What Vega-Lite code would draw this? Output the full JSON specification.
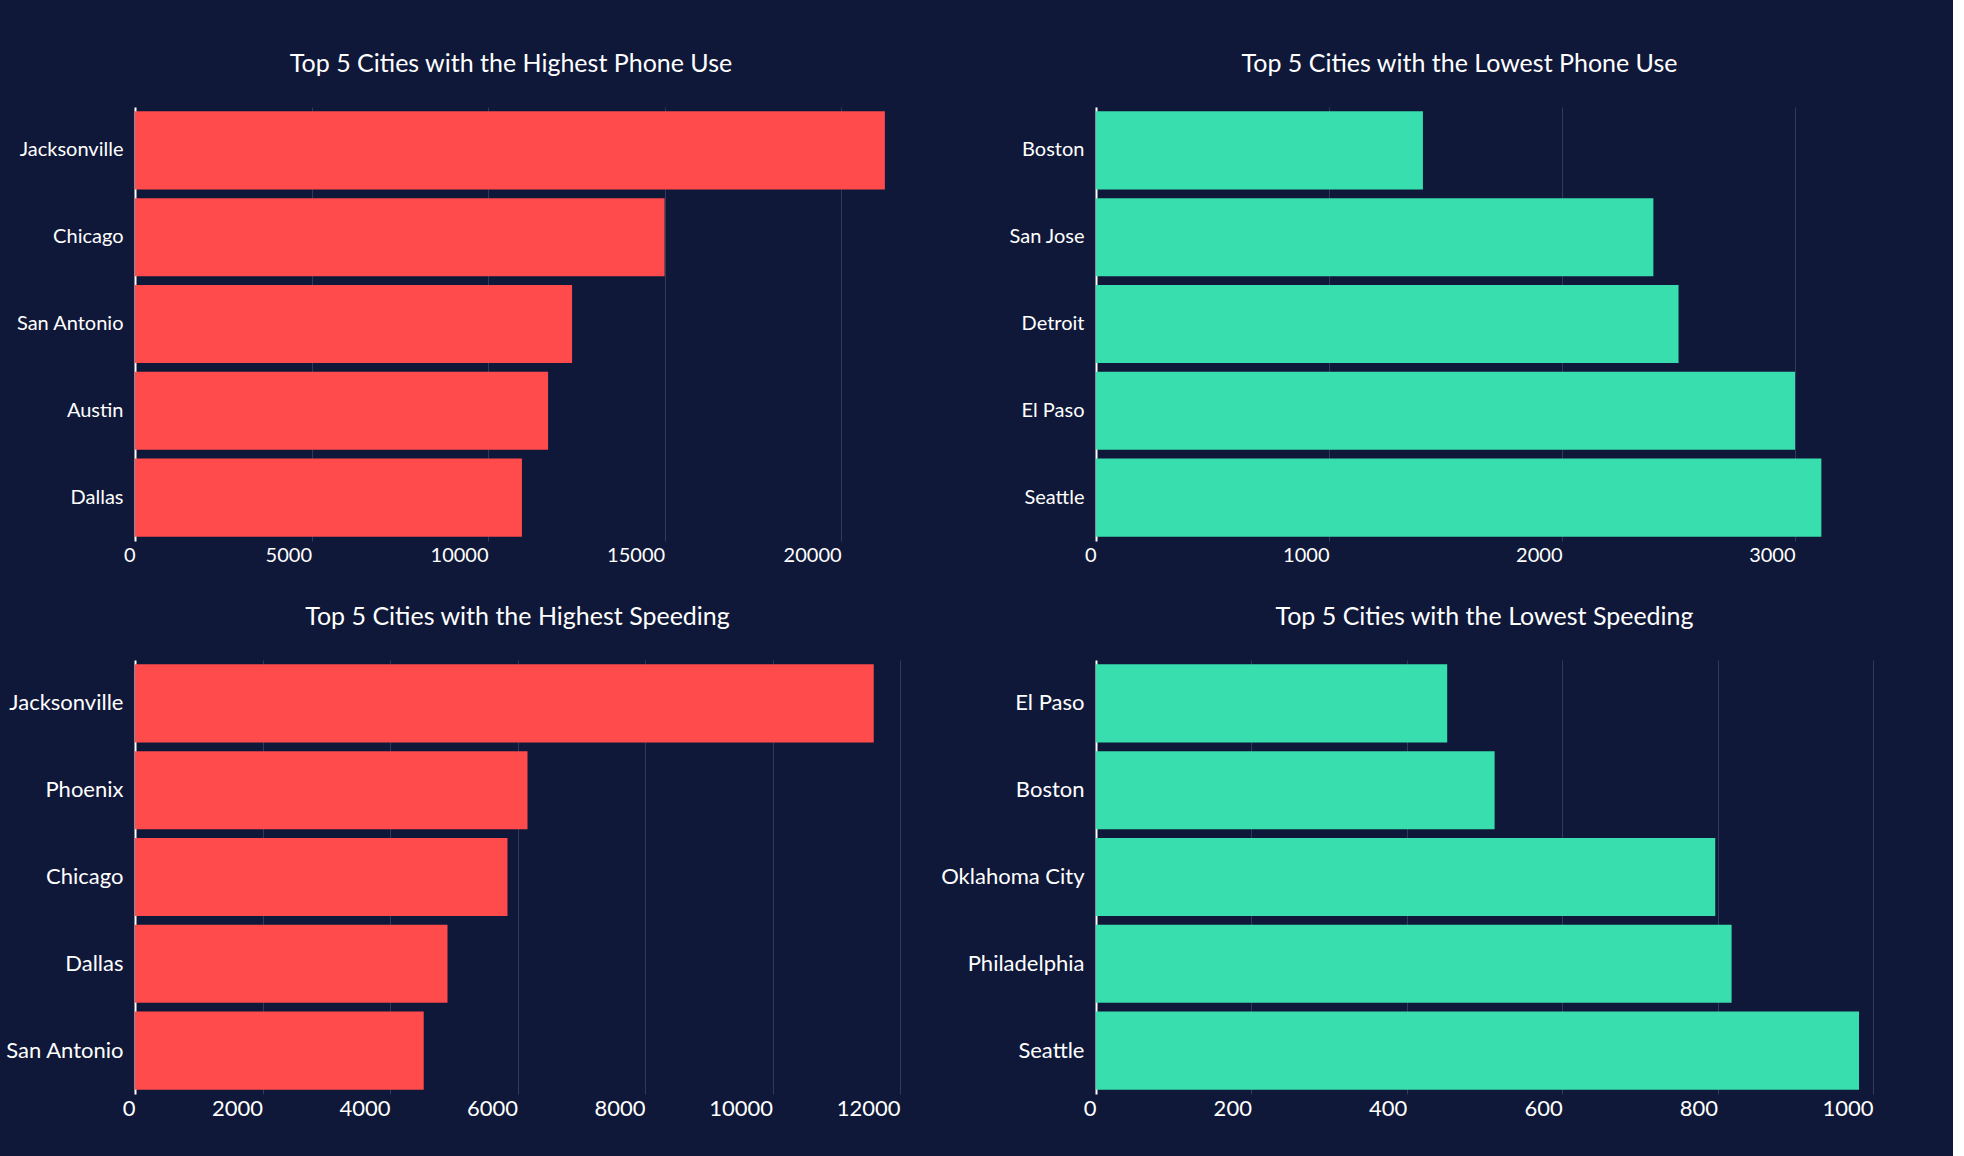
{
  "$schema": "https://vega.github.io/schema/vega-lite/v6.json",
  "background": "#0f1838",
  "padding": {"left": 5, "top": 52, "right": 80, "bottom": 40},
  "data": {
    "values": [
      {"panel": "hp", "city": "Jacksonville", "value": 21240},
      {"panel": "hp", "city": "Chicago", "value": 15000},
      {"panel": "hp", "city": "San Antonio", "value": 12380},
      {"panel": "hp", "city": "Austin", "value": 11700},
      {"panel": "hp", "city": "Dallas", "value": 10960},
      {"panel": "lp", "city": "Boston", "value": 1403},
      {"panel": "lp", "city": "San Jose", "value": 2392},
      {"panel": "lp", "city": "Detroit", "value": 2500},
      {"panel": "lp", "city": "El Paso", "value": 3000},
      {"panel": "lp", "city": "Seattle", "value": 3113},
      {"panel": "hs", "city": "Jacksonville", "value": 11588},
      {"panel": "hs", "city": "Phoenix", "value": 6157},
      {"panel": "hs", "city": "Chicago", "value": 5843},
      {"panel": "hs", "city": "Dallas", "value": 4902},
      {"panel": "hs", "city": "San Antonio", "value": 4529},
      {"panel": "ls", "city": "El Paso", "value": 452},
      {"panel": "ls", "city": "Boston", "value": 513},
      {"panel": "ls", "city": "Oklahoma City", "value": 797},
      {"panel": "ls", "city": "Philadelphia", "value": 818},
      {"panel": "ls", "city": "Seattle", "value": 982}
    ]
  },
  "config": {
    "font": "Lato",
    "view": {"stroke": null},
    "title": {"color": "#ffffff", "fontSize": 25, "fontWeight": "normal", "offset": 30},
    "axisX": {"title": null, "labelColor": "#ffffff", "labelFontSize": 20, "labelAlign": "right", "labelPadding": 4, "labelOverlap": false, "labelFlush": false, "format": "d", "domain": false, "ticks": false, "gridColor": "#2e3a5e"},
    "axisY": {"title": null, "labelColor": "#ffffff", "labelFontSize": 20, "labelPadding": 12, "domainColor": "#ffffff", "domainWidth": 2, "ticks": false, "grid": false},
    "scale": {"bandPaddingInner": 0.1, "bandPaddingOuter": 0.05},
    "concat": {"spacing": 40}
  },
  "hconcat": [
    {
      "vconcat": [
        {
          "title": "Top 5 Cities with the Highest Phone Use",
          "width": 752, "height": 434,
          "transform": [{"filter": "datum.panel == 'hp'"}],
          "mark": {"type": "bar", "color": "#ff4b4b"},
          "encoding": {
            "y": {"field": "city", "type": "nominal", "sort": "-x"},
            "x": {"field": "value", "type": "quantitative", "scale": {"domain": [0, 21300], "nice": false}, "axis": {"values": [0, 5000, 10000, 15000, 20000]}}
          }
        },
        {
          "title": "Top 5 Cities with the Highest Speeding",
          "width": 765, "height": 434,
          "transform": [{"filter": "datum.panel == 'hs'"}],
          "mark": {"type": "bar", "color": "#ff4b4b"},
          "encoding": {
            "y": {"field": "city", "type": "nominal", "sort": "-x", "axis": {"labelFontSize": 22}},
            "x": {"field": "value", "type": "quantitative", "scale": {"domain": [0, 12000], "nice": false}, "axis": {"labelFontSize": 22, "values": [0, 2000, 4000, 6000, 8000, 10000, 12000]}}
          }
        }
      ]
    },
    {
      "vconcat": [
        {
          "title": "Top 5 Cities with the Lowest Phone Use",
          "width": 727, "height": 434,
          "transform": [{"filter": "datum.panel == 'lp'"}],
          "mark": {"type": "bar", "color": "#38deae"},
          "encoding": {
            "y": {"field": "city", "type": "nominal", "sort": "x"},
            "x": {"field": "value", "type": "quantitative", "scale": {"domain": [0, 3120], "nice": false}, "axis": {"values": [0, 1000, 2000, 3000]}}
          }
        },
        {
          "title": "Top 5 Cities with the Lowest Speeding",
          "width": 777, "height": 434,
          "transform": [{"filter": "datum.panel == 'ls'"}],
          "mark": {"type": "bar", "color": "#38deae"},
          "encoding": {
            "y": {"field": "city", "type": "nominal", "sort": "x", "axis": {"labelFontSize": 22}},
            "x": {"field": "value", "type": "quantitative", "scale": {"domain": [0, 1000], "nice": false}, "axis": {"labelFontSize": 22, "values": [0, 200, 400, 600, 800, 1000]}}
          }
        }
      ]
    }
  ]
}
